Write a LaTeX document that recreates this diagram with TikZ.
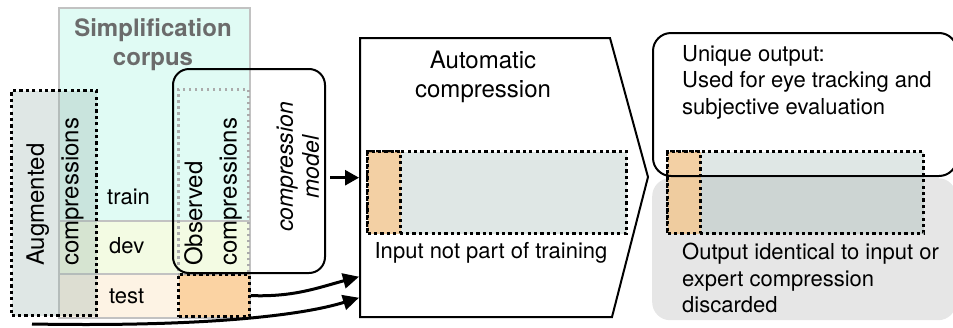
\documentclass[tikz,border=0pt]{standalone}
\usepackage{fontspec}
\setmainfont{TeX Gyre Heros}
\usetikzlibrary{arrows.meta,positioning,calc}
\definecolor{trainfill}{HTML}{E0FBF4}
\definecolor{devfill}{HTML}{F3FBE3}
\definecolor{testfill}{HTML}{FDF3E4}
\definecolor{corpusline}{HTML}{C2C2C2}
\definecolor{titlegray}{HTML}{6B6B6B}
\definecolor{augfill}{HTML}{96AFAA}
\definecolor{heldout}{HTML}{FBC98E}
\definecolor{discard}{HTML}{E6E6E6}
\definecolor{obsline}{HTML}{ABABAB}
\newcommand{\bodyfont}{\fontsize{22}{26.5}\selectfont}
\tikzset{
  corpusrow/.style={draw=corpusline, line width=1.5pt, minimum width=191pt,
    inner sep=0pt, anchor=north west},
  dotbox/.style={draw=black, line width=3.2pt, dash pattern=on 3.2pt off 3.2pt,
    inner sep=0pt, anchor=north west},
  augbox/.style={dotbox, fill=augfill, fill opacity=0.3},
  heldbox/.style={dotbox, fill=heldout, fill opacity=0.75},
  obsbox/.style={dotbox, draw=obsline, line width=2.6pt, dash pattern=on 2.8pt off 3.2pt},
  roundbox/.style={draw=black, line width=2pt, rounded corners=16pt,
    inner sep=0pt, anchor=north west},
  lbl/.style={inner sep=0pt, font=\bodyfont},
  sidelbl/.style={inner sep=0pt, rotate=90, align=left, anchor=west,
    font=\fontsize{24}{34.5}\selectfont},
  arr/.style={-{Triangle[length=16pt,width=15pt]}, line width=3pt},
  linkarr/.style={-{Triangle[length=14pt,width=15pt]}, line width=2.8pt}
}
\begin{document}
\begin{tikzpicture}[x=1pt,y=-1pt]
  \useasboundingbox (0,0) rectangle (953,327);
  % simplification corpus and its split
  \node[corpusrow, fill=trainfill, minimum height=213pt] (train) at (58,7) {};
  \node[corpusrow, fill=devfill, minimum height=53pt] (dev) at (58,220) {};
  \node[corpusrow, fill=testfill, minimum height=44pt] (test) at (58,273) {};
  \node[align=center, inner sep=0pt, text=titlegray, font=\fontsize{24}{29}\selectfont\bfseries]
    (corpus) at (153,45) {Simplification\\corpus};
  \node[lbl, anchor=west] (trainlbl) at (107,197) {train};
  \node[lbl, anchor=west] (devlbl) at (109,246) {dev};
  \node[lbl, anchor=west] (testlbl) at (109,296) {test};
  % compressions used for training
  \node[augbox, minimum width=85pt, minimum height=225pt] (aug) at (10,89) {};
  \node[sidelbl] (augtxt) at (55,266) {Augmented\\compressions};
  \node[obsbox, minimum width=70pt, minimum height=185pt] (obs) at (177,88) {};
  \node[sidelbl] (obstxt) at (213,266) {Observed\\compressions};
  \node[heldbox, minimum width=71pt, minimum height=42pt] (held) at (177,273) {};
  \node[roundbox, minimum width=152pt, minimum height=204pt] (model) at (172,68) {};
  \node[inner sep=0pt, rotate=90, align=center, font=\fontsize{23}{26}\selectfont\itshape]
    (modeltxt) at (298,167) {compression\\model};
  % automatic compression step
  \draw[line width=2pt] (360,38) -- (610,38) -- (648,177) -- (612,317) -- (360,317) -- cycle;
  \node[inner sep=0pt, minimum width=252pt, minimum height=279pt, anchor=north west]
    (auto) at (359,38) {};
  \node[align=center, inner sep=0pt, font=\fontsize{24}{29}\selectfont] (autotxt) at (483,77)
    {Automatic\\compression};
  \node[augbox, minimum width=259pt, minimum height=82pt] (autoin) at (366,150) {};
  \node[heldbox, minimum width=33pt, minimum height=82pt] (autohold) at (366,150) {};
  \node[lbl] (inputtxt) at (491,253) {Input not part of training};
  % output
  \node[fill=discard, rounded corners=18pt, inner sep=0pt, anchor=north west,
    minimum width=304pt, minimum height=142pt] (gone) at (652,178) {};
  \node[augbox, minimum width=256pt, minimum height=82pt] (outbox) at (666,150) {};
  \node[heldbox, minimum width=33pt, minimum height=82pt] (outhold) at (666,150) {};
  \node[roundbox, rounded corners=18pt, minimum width=304pt, minimum height=143pt]
    (unique) at (652,32) {};
  \node[lbl, align=left, anchor=north west] (uniquetxt) at (682,45)
    {Unique output:\\Used for eye tracking and\\subjective evaluation};
  \node[lbl, align=left, anchor=north west] (gonetxt) at (682,243)
    {Output identical to input or\\expert compression\\discarded};
  % connectors
  \coordinate (augout) at (32,324);
  \draw[linkarr] (model.east |- auto.west) ++(4,0) coordinate (mfrom) (mfrom) -- (auto.west);
  \draw[arr] (held.east) to[out=-2,in=195] ([yshift=-99pt]auto.west);
  \draw[arr] (augout) .. controls (200,327) and (300,316) .. ([yshift=-120pt]auto.west);
\end{tikzpicture}
\end{document}
